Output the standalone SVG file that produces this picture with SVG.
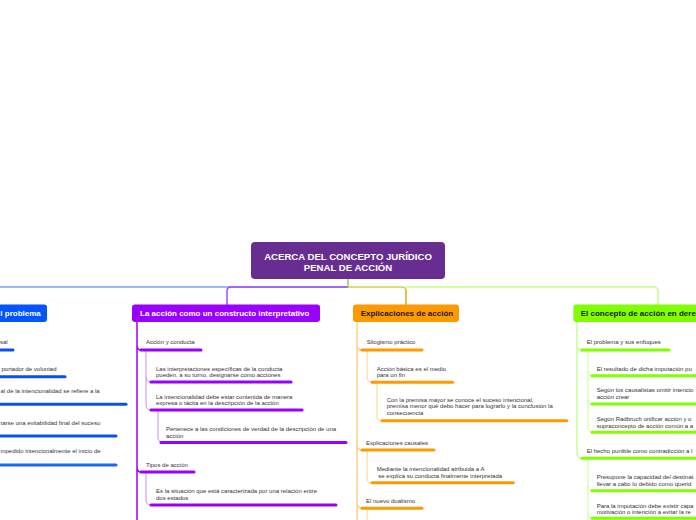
<svg xmlns="http://www.w3.org/2000/svg" width="696" height="520" viewBox="0 0 696 520">
<style>
.t{font-family:"Liberation Sans",Arial,sans-serif;font-size:6px;fill:#333}
.h{font-family:"Liberation Sans",Arial,sans-serif;font-size:8px;font-weight:bold}
.c{font-family:"Liberation Sans",Arial,sans-serif;font-size:9.6px;font-weight:bold;fill:#fff}
.ul{fill:none;stroke-width:3;stroke-linecap:round}
.ln{fill:none;stroke-width:1.5}
.sl{fill:none;stroke-width:1}
.bu{stroke:#0a4ff2}.pu{stroke:#9900ff}.ou{stroke:#ff9900}.gu{stroke:#7fff00}
</style>
<rect width="696" height="520" fill="#fff"/>
<g id="connectors">
  <path class="ln" d="M-5,287 H348" stroke="#7da0f8" stroke-width="2"/>
  <path class="ln" d="M348,287 H231 Q227,287 227,291 V305" stroke="#a54cf7" stroke-width="2"/>
  <path class="ln" d="M406,287 H654 Q658,287 658,291 V305" stroke="#c2ff80" stroke-width="2"/>
  <path class="ln" d="M348,287 H402 Q406,287 406,291 V305" stroke="#bfdc44" stroke-width="2"/>
  <path class="ln" d="M406,289 V305" stroke="#ffb040" stroke-width="2"/>
  <path class="ln" d="M348,279 V287" stroke="#a8cc2c" stroke-width="2"/>
  <!-- purple -->
  <path class="ln" stroke="#9900ff" d="M137,322 V520 M137,345 Q137,350 141,350 M137,467 Q137,472 141,472"/>
  <path class="sl" stroke="#c98cff" d="M146,350 V405 Q146,410 151,410 M146,377 Q146,382 151,382 M158,410 V437 Q158,442 162,442 M146,472 V500 Q146,505 151,505"/>
  <!-- orange -->
  <path class="ln" stroke="#ffd08a" d="M357,322 V520 M357,345 Q357,350 362,350 M357,445 Q357,450 362,450 M357,503 Q357,508 362,508"/>
  <path class="sl" stroke="#ffd08a" d="M367,350 V377 Q367,382 372,382 M377,382 V416 Q377,421 382,421 M367,450 V478 Q367,483 372,483 M367,508 V520"/>
  <!-- green -->
  <path class="ln" stroke="#c8ff99" d="M577,322 V453 Q577,458 582,458 M577,345 Q577,350 582,350"/>
  <path class="sl" stroke="#c8ff99" d="M588,350 V427 Q588,432 592,432 M588,371 Q588,376 592,376 M588,399 Q588,404 592,404 M588,458 V520 M588,486 Q588,491 592,491 M588,513 Q588,518 592,518"/>
</g>
<g id="center">
  <rect x="251" y="242" width="194" height="37" rx="4" fill="#672d91"/>
  <text class="c" x="348" y="260" text-anchor="middle">ACERCA DEL CONCEPTO JURÍDICO</text>
  <text class="c" x="348" y="270.5" text-anchor="middle">PENAL DE ACCIÓN</text>
</g>
<g id="blue">
  <rect x="-10" y="304.5" width="57" height="17.5" rx="3" fill="#0055ff"/>
  <text class="h" x="0.3" y="316" fill="#fff">l problema</text>
  <text class="t" x="0" y="344.3">sal</text>
  <line class="ul bu" x1="-5" y1="350" x2="13" y2="350"/>
  <text class="t" x="1.5" y="370.8">portador de voluntad</text>
  <line class="ul bu" x1="-5" y1="376.7" x2="65" y2="376.7"/>
  <text class="t" x="0.5" y="393">al de la intencionalidad se refiere a la</text>
  <line class="ul bu" x1="-5" y1="404.3" x2="126" y2="404.3"/>
  <text class="t" x="0.5" y="425">tarse una evitabilidad final del suceso</text>
  <line class="ul bu" x1="-5" y1="436" x2="116" y2="436"/>
  <text class="t" x="0.5" y="452.7">mpedido intencionalmente el inicio de</text>
  <line class="ul" stroke="#1a66ff" x1="-5" y1="465" x2="116" y2="465"/>
</g>
<g id="purple">
  <rect x="132" y="304.5" width="188" height="17.5" rx="3" fill="#9900ff"/>
  <text class="h" x="140" y="316" fill="#fff">La acción como un constructo interpretativo</text>
  <text class="t" x="146" y="344.3">Acción y conducta</text>
  <line class="ul pu" x1="141" y1="350" x2="201" y2="350"/>
  <text class="t" x="156" y="370.5">Las interpretaciones específicas de la conducta</text>
  <text class="t" x="156" y="376.5">pueden, a su turno, designarse como acciones</text>
  <line class="ul pu" x1="151" y1="382" x2="291" y2="382"/>
  <text class="t" x="156" y="398.7">La intencionalidad debe estar contenida de manera</text>
  <text class="t" x="156" y="405">expresa o tácita en la descripción de la acción</text>
  <line class="ul pu" x1="151" y1="410" x2="302" y2="410"/>
  <text class="t" x="166" y="431">Pertenece a las condiciones de verdad de la descripción de una</text>
  <text class="t" x="166" y="437.7">acción</text>
  <line class="ul pu" x1="161" y1="442.5" x2="346" y2="442.5"/>
  <text class="t" x="146" y="466.5">Tipos de acción</text>
  <line class="ul pu" x1="141" y1="472" x2="194" y2="472"/>
  <text class="t" x="156" y="492.5">Es la situación que está caracterizada por una relación entre</text>
  <text class="t" x="156" y="499.5">dos estados</text>
  <line class="ul pu" x1="151" y1="505" x2="336" y2="505"/>
</g>
<g id="orange">
  <rect x="353" y="304.5" width="106" height="17.5" rx="3" fill="#ff9900"/>
  <text class="h" x="360.7" y="316" fill="#1a1a1a">Explicaciones de acción</text>
  <text class="t" x="366.7" y="344.3">Silogismo práctico</text>
  <line class="ul ou" x1="362" y1="350" x2="422" y2="350"/>
  <text class="t" x="376.7" y="370.5">Acción básica es el medio</text>
  <text class="t" x="376.7" y="377">para un fin</text>
  <line class="ul ou" x1="372" y1="382.3" x2="452.7" y2="382.3"/>
  <text class="t" x="386.7" y="401.5">Con la premisa mayor se conoce el suceso intencional,</text>
  <text class="t" x="386.7" y="408.3">premisa menor qué debo hacer para lograrlo y la conclusión la</text>
  <text class="t" x="386.7" y="415.3">consecuencia</text>
  <line class="ul ou" x1="382" y1="420.7" x2="566.7" y2="420.7"/>
  <text class="t" x="366" y="444.5">Explicaciones causales</text>
  <line class="ul ou" x1="362" y1="450" x2="434" y2="450"/>
  <text class="t" x="376.7" y="470.8">Mediante la intencionalidad atribuida a A</text>
  <text class="t" x="376.7" y="477.5" xml:space="preserve"> se explica su conducta finalmente interpretada</text>
  <line class="ul ou" x1="372" y1="482.7" x2="513.3" y2="482.7"/>
  <text class="t" x="366" y="502.5">El nuevo dualismo</text>
  <line class="ul ou" x1="362" y1="508.3" x2="422" y2="508.3"/>
</g>
<g id="green">
  <rect x="573.3" y="304.5" width="135" height="17.5" rx="3" fill="#80ff00"/>
  <text class="h" x="580.7" y="315.8" fill="#1a1a1a">El concepto de acción en dere</text>
  <text class="t" x="586.7" y="344.3">El problema y sus enfoques</text>
  <line class="ul gu" x1="582" y1="350" x2="669" y2="350"/>
  <text class="t" x="596.7" y="370.5">El resultado de dicha imputación pu</text>
  <line class="ul gu" x1="592" y1="375.7" x2="710" y2="375.7"/>
  <text class="t" x="596.7" y="392">Según los causalistas omitir intencio</text>
  <text class="t" x="596.7" y="398.7">acción crear</text>
  <line class="ul gu" x1="592" y1="404" x2="710" y2="404"/>
  <text class="t" x="596.7" y="420.8">Según Radbruch unificar acción y o</text>
  <text class="t" x="596.7" y="427.5">supraconcepto de acción común a a</text>
  <line class="ul gu" x1="592" y1="432.3" x2="710" y2="432.3"/>
  <text class="t" x="586.7" y="452.8">El hecho punible como contradicción a l</text>
  <line class="ul gu" x1="582" y1="458.3" x2="710" y2="458.3"/>
  <text class="t" x="596.7" y="479">Presupone la capacidad del destinat</text>
  <text class="t" x="596.7" y="485.5">llevar a cabo lo debido como querid</text>
  <line class="ul gu" x1="592" y1="490.7" x2="710" y2="490.7"/>
  <text class="t" x="596.7" y="507.5">Para la imputación debe existir capa</text>
  <text class="t" x="596.7" y="514.3">motivación o intención a evitar la re</text>
  <line class="ul gu" x1="592" y1="518.3" x2="710" y2="518.3"/>
</g>
</svg>
